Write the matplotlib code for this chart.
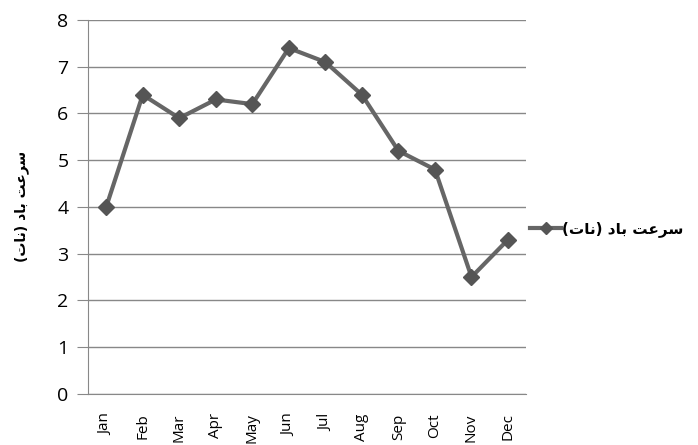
import matplotlib.pyplot as plt

months = ['Jan', 'Feb', 'Mar', 'Apr', 'May', 'Jun', 'Jul', 'Aug', 'Sep', 'Oct', 'Nov', 'Dec']
wind_speed = [4.0, 6.4, 5.9, 6.3, 6.2, 7.4, 7.1, 6.4, 5.2, 4.8, 2.5, 3.3]
yticks = [0, 1, 2, 3, 4, 5, 6, 7, 8]

# "سرعت باد (نات)" written in visual order with Arabic presentation forms
label = '(\ufe95\ufe8e\ufee7) \ufea9\ufe8e\ufe91 \ufe96\ufecb\ufeae\ufeb3'

fig = plt.figure(figsize=(6.98, 4.45), dpi=100)
ax = fig.add_axes([0.126, 0.115, 0.628, 0.84])

x = range(len(months))
ax.plot(x, wind_speed, color='#666666', lw=3, marker='D', ms=8,
        mfc='#555555', mec='#555555', label=label)

ax.set_xlim(-0.5, len(months) - 0.5)
ax.set_ylim(0, 8)
ax.set_yticks(yticks)
ax.set_yticklabels([str(t) for t in yticks], fontsize=14, family='Open Sans')
ax.set_xticks(list(x))
ax.set_xticklabels(months, rotation=90, fontsize=11, family='Open Sans')
ax.tick_params(axis='y', length=8, color='#888888', pad=6)
ax.tick_params(axis='x', length=0, pad=14)
ax.grid(axis='y', color='#888888', lw=1)
ax.set_axisbelow(True)
for s in ['top', 'right']:
    ax.spines[s].set_visible(False)
for s in ['left', 'bottom']:
    ax.spines[s].set_color('#888888')

ax.set_ylabel(label, fontsize=10, fontweight='bold', family='DejaVu Sans', labelpad=20)

fig.legend(loc='center left', bbox_to_anchor=(0.74, 0.485), frameon=False,
           prop={'family': 'DejaVu Sans', 'weight': 'bold', 'size': 11},
           handlelength=2.0, handletextpad=0.1, markerscale=0.8)

fig.savefig('out.png', dpi=100)
